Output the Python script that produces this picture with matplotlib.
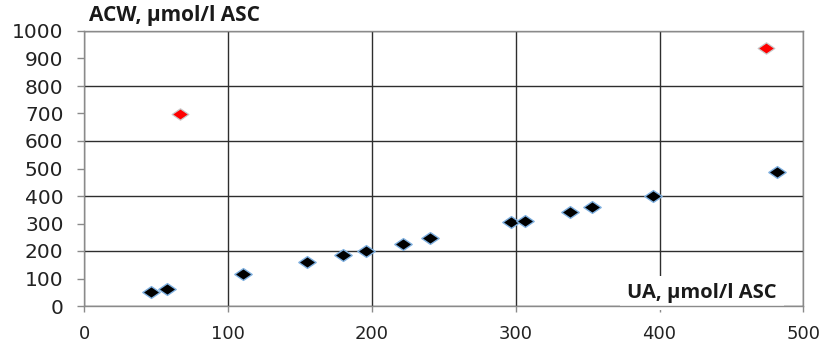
import matplotlib
matplotlib.use("Agg")
import matplotlib.pyplot as plt
from matplotlib.path import Path
from matplotlib.ticker import MultipleLocator

# UA vs ACW measurements (µmol/l ASC)
ua_main = [46.5, 57.7, 110.5, 154.7, 180.1, 195.7, 221.8, 240.4, 296.5, 306.5, 338.0, 352.8, 395.7, 481.9]
acw_main = [52, 62, 115, 159, 185, 201, 227, 246, 305, 310, 343, 359, 401, 487]

# outliers
ua_out = [66.5, 474.0]
acw_out = [698, 939]

x_ticks = [0, 100, 200, 300, 400, 500]
y_ticks = [0, 100, 200, 300, 400, 500, 600, 700, 800, 900, 1000]

# slightly flattened diamond marker
diamond = Path([(0, 0.68), (1, 0), (0, -0.68), (-1, 0), (0, 0.68)],
               [Path.MOVETO, Path.LINETO, Path.LINETO, Path.LINETO, Path.CLOSEPOLY])

fig = plt.figure(figsize=(8.21, 3.42), dpi=100)
ax = fig.add_axes([84.3 / 821, 36 / 342, 719 / 821, 275 / 342])

ax.set_xlim(0, 500)
ax.set_ylim(0, 1000)
ax.set_xticks(x_ticks)
ax.set_yticks(y_ticks)
ax.yaxis.remove_overlapping_locs = False
ax.yaxis.set_minor_locator(MultipleLocator(200))

ax.grid(True, axis="x", which="major", color="#2e2e2e", lw=1.0)
ax.grid(True, axis="y", which="minor", color="#2e2e2e", lw=1.0)
ax.grid(False, axis="y", which="major")
ax.set_axisbelow(True)

for s in ax.spines.values():
    s.set_color("#8a8a8a")
    s.set_linewidth(1.0)

ax.tick_params(axis="y", which="major", direction="out", length=5, width=1,
               color="#8a8a8a", pad=10, labelsize=14.5)
ax.tick_params(axis="y", which="minor", length=0)
ax.tick_params(axis="x", which="major", direction="out", length=4, width=1,
               color="#8a8a8a", pad=10, labelsize=13)
for lbl in ax.get_xticklabels() + ax.get_yticklabels():
    lbl.set_color("#222222")

ax.scatter(ua_main, acw_main, marker=diamond, s=12.5 ** 2, c="black",
           edgecolors="#7fb0e0", linewidths=1.0, zorder=3)
ax.scatter(ua_out, acw_out, marker=diamond, s=12 ** 2, c="#ff0000",
           edgecolors="#c8c8c8", linewidths=0.9, zorder=3)

fig.text(89 / 821, 1 - 21 / 342, "ACW, µmol/l ASC", fontsize=15,
         fontweight="bold", family="Open Sans", color="#1a1a1a",
         ha="left", va="baseline")
ax.text(0.963, 0.03, "UA, µmol/l ASC", transform=ax.transAxes,
        fontsize=14.5, fontweight="bold", family="Open Sans", color="#1a1a1a",
        ha="right", va="baseline", zorder=2.4,
        bbox=dict(facecolor="white", edgecolor="none", pad=5))

fig.savefig("out.png", dpi=100)
